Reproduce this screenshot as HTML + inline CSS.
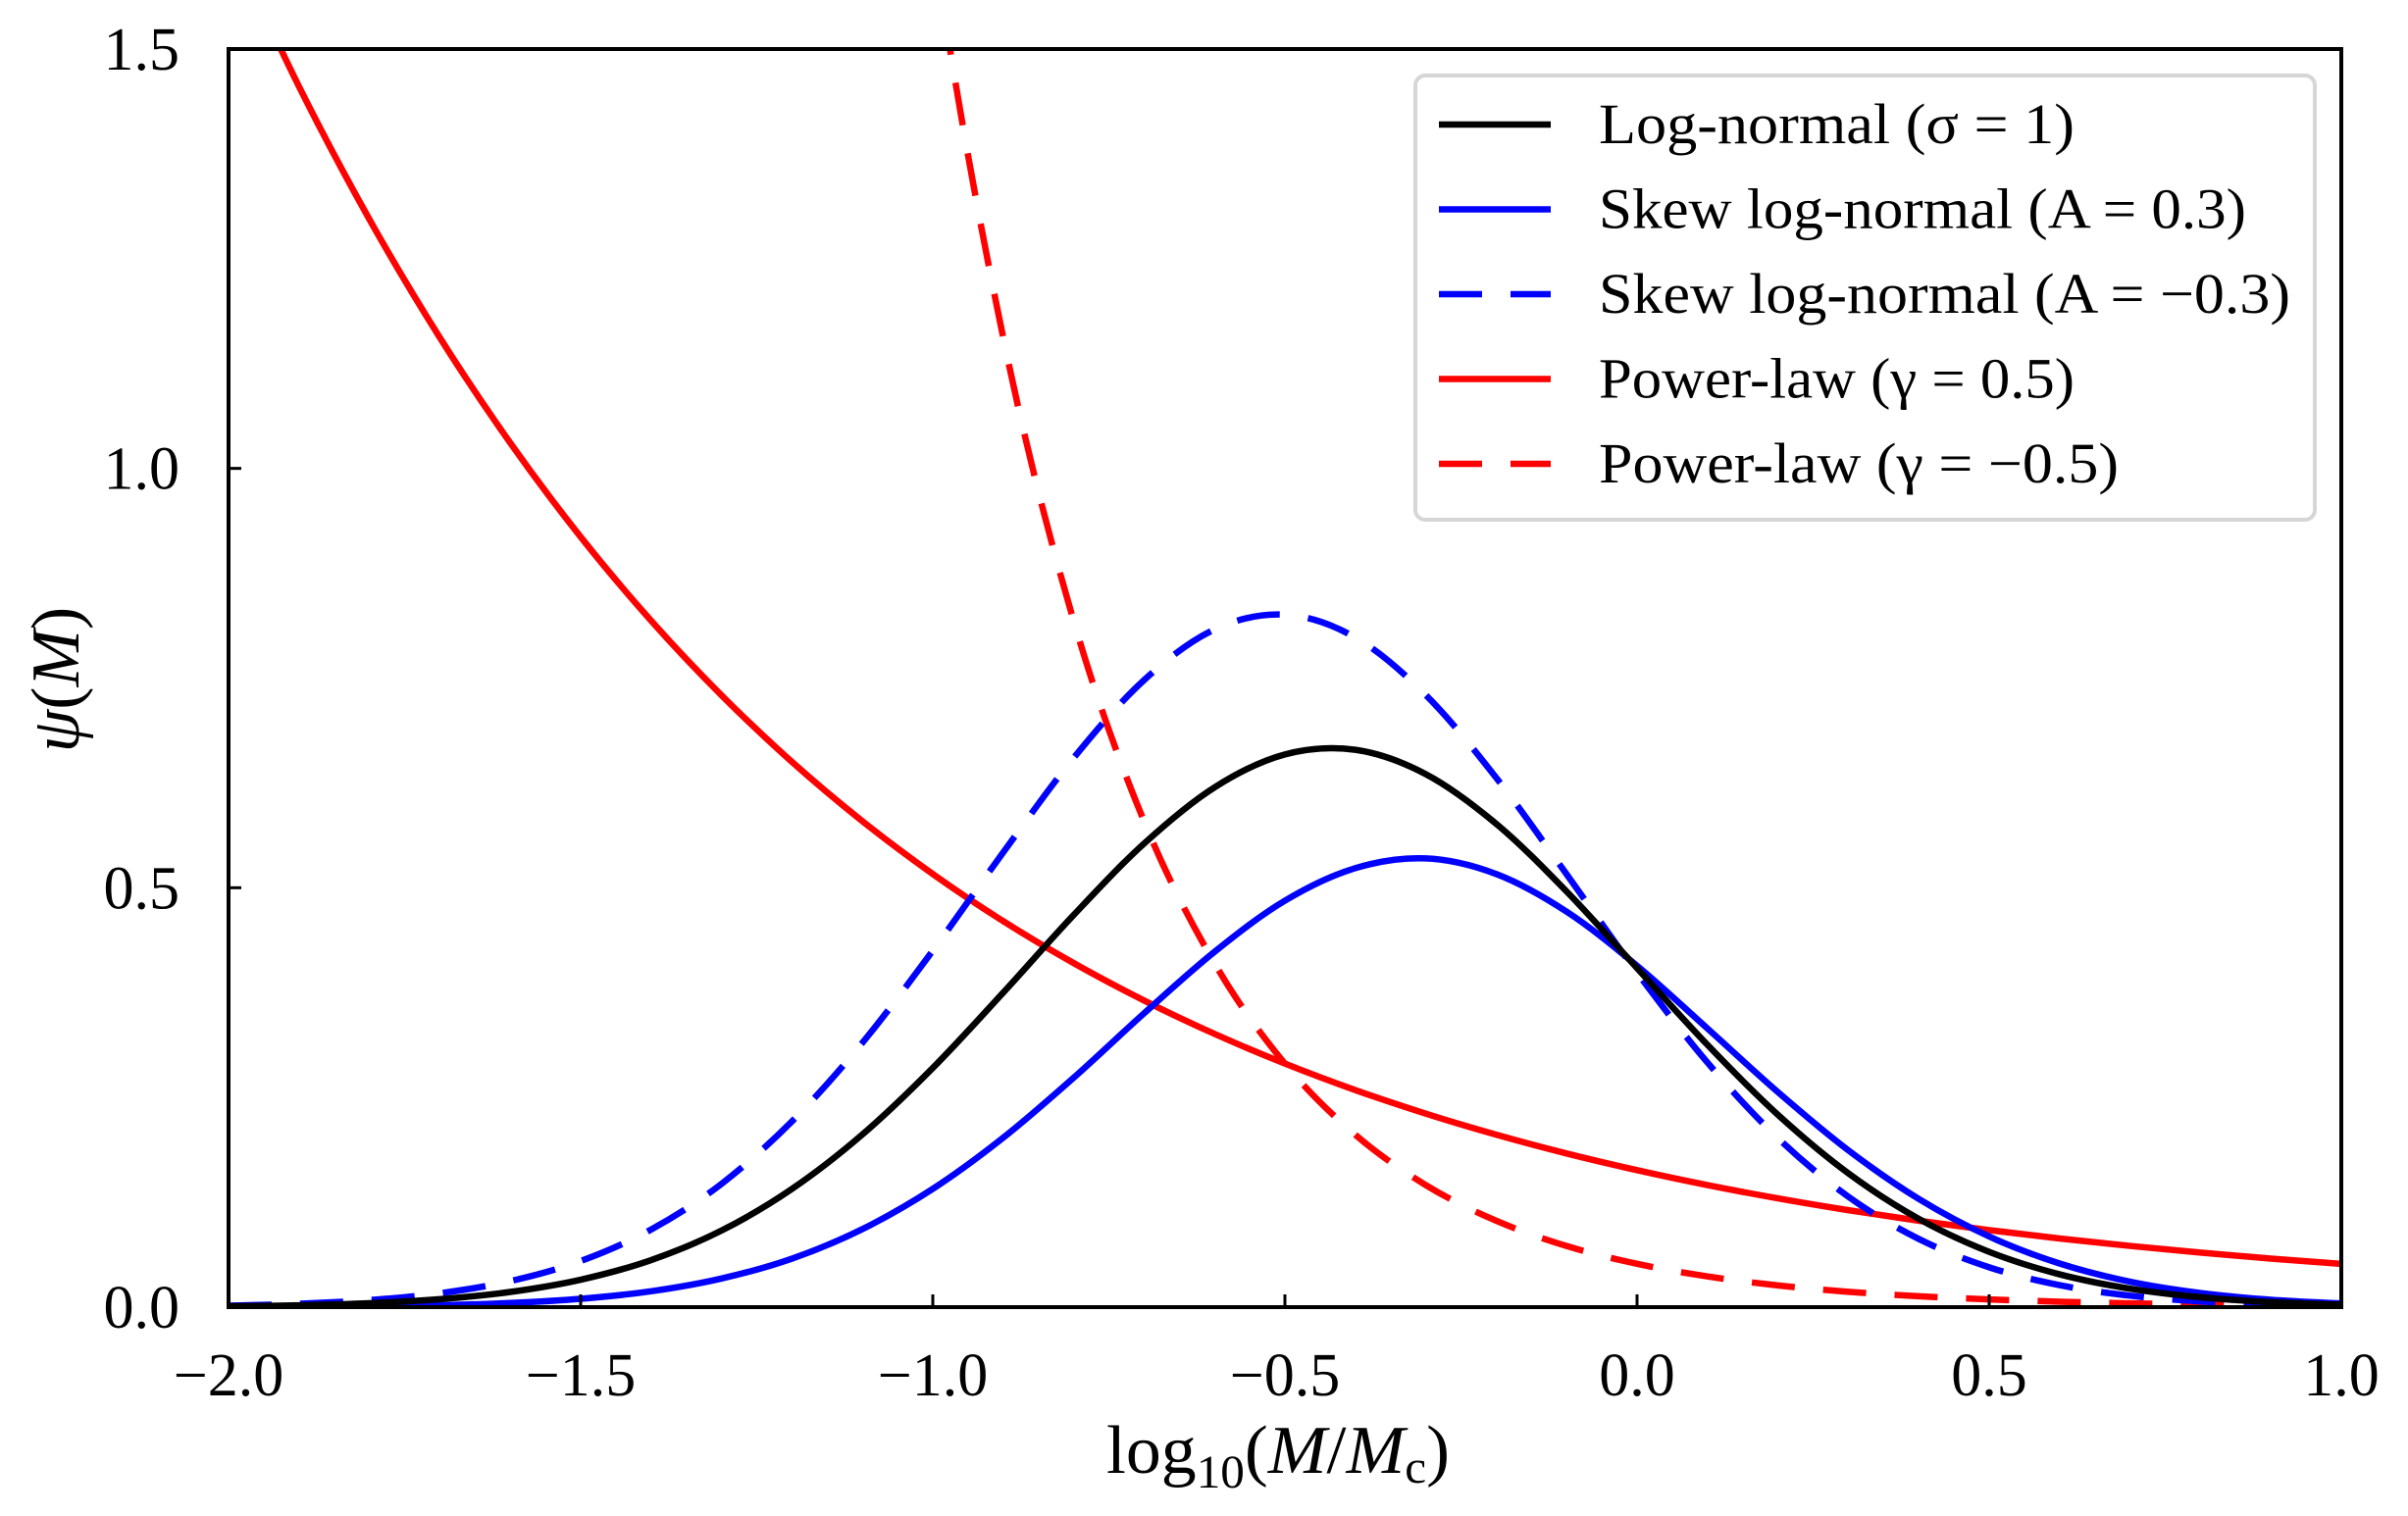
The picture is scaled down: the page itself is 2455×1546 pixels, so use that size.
<!DOCTYPE html>
<html><head><meta charset="utf-8"><style>
html,body{margin:0;padding:0;background:#fff;}
svg{display:block;}
text{font-family:"Liberation Serif","DejaVu Serif",serif;fill:#000;}
</style></head><body>
<svg id="chart" width="2455" height="1546" viewBox="0 0 2455 1546" xmlns="http://www.w3.org/2000/svg">
<defs><clipPath id="plotclip"><rect x="233" y="50" width="2154" height="1283"/></clipPath></defs>
<rect x="0" y="0" width="2455" height="1546" fill="#fff"/>
<g id="series" clip-path="url(#plotclip)"></g>
<g id="ticks"></g>
<rect x="233" y="50" width="2154" height="1283" fill="none" stroke="#000" stroke-width="4"/>
<text transform="translate(80,693) rotate(-90)" text-anchor="middle" font-size="70"><tspan font-style="italic">ψ</tspan>(<tspan font-style="italic">M</tspan>)</text>
<text x="1303" y="1502" text-anchor="middle" font-size="70" textLength="350" lengthAdjust="spacingAndGlyphs">log<tspan font-size="48" dy="15">10</tspan><tspan dy="-15">(</tspan><tspan font-style="italic">M</tspan>/<tspan font-style="italic">M</tspan><tspan font-size="48" dy="10">c</tspan><tspan dy="-10">)</tspan></text>
<g id="legend">
<rect x="1443" y="77" width="917" height="453" rx="10" fill="#fff" fill-opacity="0.8" stroke="#d6d6d6" stroke-width="4"/>
</g>
</svg>
<script>
const xs = [-2.0,-1.9,-1.8,-1.7,-1.6,-1.5,-1.4,-1.3,-1.2,-1.1,-1.0,-0.9,-0.8,-0.7,-0.6,-0.5,-0.4,-0.3,-0.2,-0.1,0.0,0.1,0.2,0.3,0.4,0.5,0.6,0.7,0.8,0.9,1.0];
const logNormal = [0.00099,0.00222,0.00472,0.0095,0.0181,0.0327,0.0561,0.0913,0.1409,0.2058,0.2852,0.3750,0.4675,0.5527,0.6197,0.6590,0.6645,0.6355,0.5763,0.4956,0.4042,0.3127,0.2294,0.1596,0.1053,0.0659,0.0391,0.0220,0.0118,0.00595,0.00286];
const skewPos = [0.00017,0.00043,0.00103,0.00232,0.00495,0.00995,0.0189,0.0341,0.0578,0.0930,0.1410,0.2020,0.2735,0.3503,0.4236,0.4846,0.5234,0.5350,0.5164,0.4715,0.4070,0.3322,0.2564,0.1870,0.1290,0.0842,0.0520,0.0303,0.0168,0.0088,0.00435];
const skewNeg = [0.00181,0.0040,0.00837,0.01655,0.03103,0.0550,0.0925,0.1470,0.2215,0.3152,0.4251,0.5422,0.6548,0.7476,0.8080,0.8256,0.7984,0.7298,0.6312,0.5161,0.3989,0.2916,0.2015,0.1317,0.0813,0.0475,0.0262,0.01366,0.00674,0.00314,0.00138];
const powerPos = [1.633,1.4554,1.297,1.156,1.0304,0.9183,0.8185,0.7295,0.6501,0.5794,0.5164,0.4602,0.4102,0.3656,0.3258,0.2904,0.2588,0.2307,0.2056,0.1832,0.1633,0.1455,0.1297,0.1156,0.1030,0.0918,0.0818,0.0730,0.0650,0.0579,0.0516];
const xsNeg = [-1.1,-1.0,-0.9,-0.8,-0.7,-0.6,-0.5,-0.4,-0.3,-0.2,-0.1,0.0,0.1,0.2,0.3,0.4,0.5,0.6,0.7,0.8,0.9,1.0];
const powerNeg = [2.306,1.633,1.156,0.8183,0.5793,0.4101,0.2903,0.2055,0.1455,0.1030,0.0729,0.0516,0.0366,0.0259,0.0183,0.0130,0.0092,0.0065,0.0046,0.00326,0.00231,0.00163];
const xTicks = [-2.0,-1.5,-1.0,-0.5,0.0,0.5,1.0];
const xTickLabels = ["−2.0","−1.5","−1.0","−0.5","0.0","0.5","1.0"];
const yTicks = [0.0,0.5,1.0,1.5];
const yTickLabels = ["0.0","0.5","1.0","1.5"];
const legendLabels = ["Log-normal (σ = 1)","Skew log-normal (A = 0.3)","Skew log-normal (A = −0.3)","Power-law (γ = 0.5)","Power-law (γ = −0.5)"];

const X0=233,X1=2387,Y0=1333,Y1=50;
const sx = v => X0 + (v - (-2)) / 3 * (X1 - X0);
const sy = v => Y0 - v / 1.5 * (Y0 - Y1);
const NS="http://www.w3.org/2000/svg";
function pathFrom(xa, ya){
  const p = xa.map((x,i)=>[sx(x), sy(ya[i])]);
  let d = "M"+p[0][0].toFixed(2)+","+p[0][1].toFixed(2);
  for(let i=0;i<p.length-1;i++){
    const a=p[i-1]||p[i], b=p[i], c=p[i+1], e=p[i+2]||c;
    const c1=[b[0]+(c[0]-a[0])/6, b[1]+(c[1]-a[1])/6];
    const c2=[c[0]-(e[0]-b[0])/6, c[1]-(e[1]-b[1])/6];
    d+=" C"+c1[0].toFixed(2)+","+c1[1].toFixed(2)+" "+c2[0].toFixed(2)+","+c2[1].toFixed(2)+" "+c[0].toFixed(2)+","+c[1].toFixed(2);
  }
  return d;
}
const seriesG=document.getElementById('series');
function addLine(xa, ya, color, dashed, name){
  const el=document.createElementNS(NS,'path');
  el.setAttribute('d', pathFrom(xa, ya));
  el.setAttribute('fill','none');
  el.setAttribute('stroke',color);
  el.setAttribute('stroke-width','6.5');
  if(dashed) el.setAttribute('stroke-dasharray','44 29');
  
  
  seriesG.appendChild(el);
}
addLine(xs, powerPos, '#ff0000', false, 'power-law-gamma-0.5-line');
addLine(xsNeg, powerNeg, '#ff0000', true, 'power-law-gamma-minus-0.5-line');
addLine(xs, skewNeg, '#0000ff', true, 'skew-log-normal-a-minus-0.3-line');
addLine(xs, skewPos, '#0000ff', false, 'skew-log-normal-a-0.3-line');
addLine(xs, logNormal, '#000000', false, 'log-normal-line');

const ticksG=document.getElementById('ticks');
xTicks.forEach((v,i)=>{
  const t=document.createElementNS(NS,'line');
  t.setAttribute('x1',sx(v)); t.setAttribute('x2',sx(v));
  t.setAttribute('y1',Y0); t.setAttribute('y2',Y0-13);
  t.setAttribute('stroke','#000'); t.setAttribute('stroke-width','3');
  
  
  ticksG.appendChild(t);
  const tx=document.createElementNS(NS,'text');
  tx.setAttribute('x',sx(v)); tx.setAttribute('y',1423);
  tx.setAttribute('text-anchor','middle'); tx.setAttribute('font-size','62');
  tx.textContent=xTickLabels[i];
  
  
  ticksG.appendChild(tx);
});
yTicks.forEach((v,i)=>{
  const t=document.createElementNS(NS,'line');
  t.setAttribute('x1',X0); t.setAttribute('x2',X0+13);
  t.setAttribute('y1',sy(v)); t.setAttribute('y2',sy(v));
  t.setAttribute('stroke','#000'); t.setAttribute('stroke-width','3');
  
  
  ticksG.appendChild(t);
  const tx=document.createElementNS(NS,'text');
  tx.setAttribute('x',183); tx.setAttribute('y',sy(v)+21);
  tx.setAttribute('text-anchor','end'); tx.setAttribute('font-size','62');
  tx.textContent=yTickLabels[i];
  
  
  ticksG.appendChild(tx);
});

const legendG=document.getElementById('legend');
const legColors=['#000','#0000ff','#0000ff','#ff0000','#ff0000'];
const legDash=[false,false,true,false,true];
const legWidths=[485,660,705,485,530];
legendLabels.forEach((lab,i)=>{
  const cy=127+i*86.5;
  const l=document.createElementNS(NS,'line');
  l.setAttribute('x1',1467); l.setAttribute('x2',1581);
  l.setAttribute('y1',cy); l.setAttribute('y2',cy);
  l.setAttribute('stroke',legColors[i]); l.setAttribute('stroke-width','6.5');
  if(legDash[i]) l.setAttribute('stroke-dasharray','44 29');
  
  
  legendG.appendChild(l);
  const tx=document.createElementNS(NS,'text');
  tx.setAttribute('x',1630); tx.setAttribute('y',cy+19);
  tx.setAttribute('font-size','58');
  tx.setAttribute('textLength',legWidths[i]);
  tx.setAttribute('lengthAdjust','spacingAndGlyphs');
  tx.textContent=lab;
  
  
  legendG.appendChild(tx);
});
</script>
</body></html>
